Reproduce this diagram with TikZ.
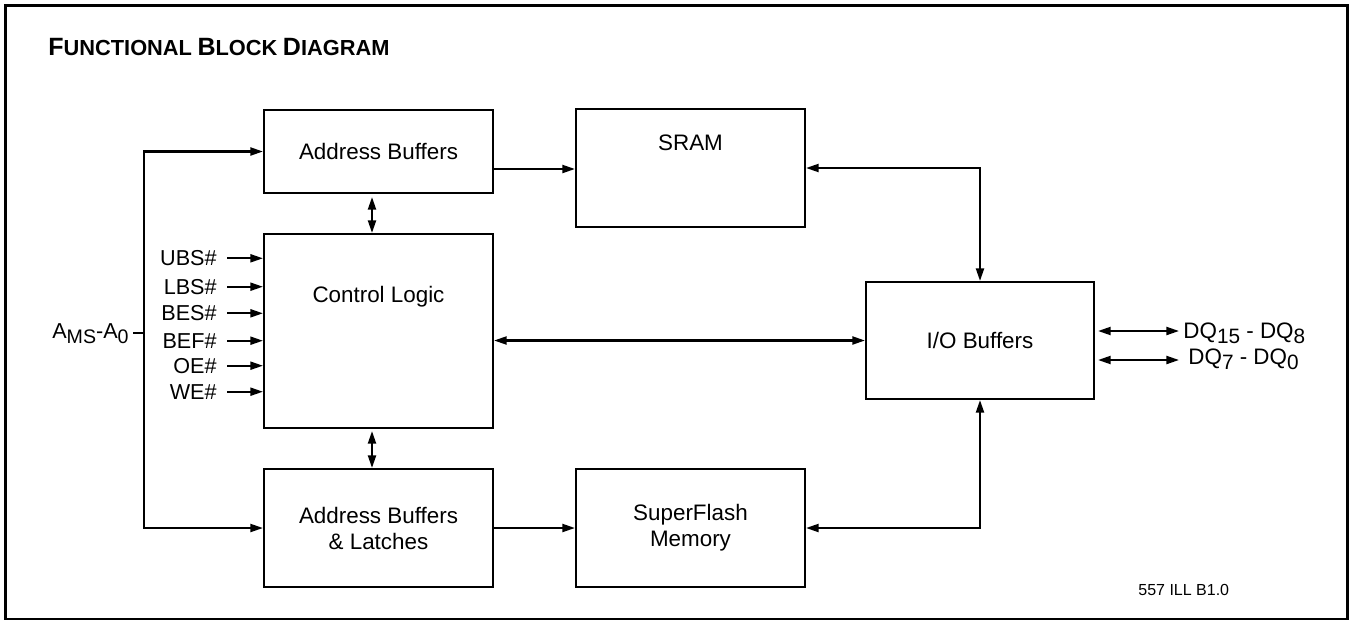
\documentclass[tikz,border=0pt]{standalone}
\usepackage{fontspec}
\setmainfont{Liberation Sans}
\usetikzlibrary{arrows.meta}
\newcommand\ttlbig[1]{{\fontsize{12.5}{14}\selectfont #1}}
\newcommand\ttlsml[1]{{\fontsize{10.9}{13}\selectfont #1}}
\newcommand\lowsub[2]{\raisebox{-2.5pt}{\fontsize{#1}{12}\selectfont #2}}
\begin{document}
\begin{tikzpicture}[x=0.5pt,y=-0.5pt,
  >={Triangle[length=6.3pt,width=4pt]},
  box/.style={draw, line width=1.05pt, minimum width=114.5pt, inner sep=0pt,
    font=\fontsize{11.2}{13}\selectfont, align=center},
  boxlabel/.style={font=\fontsize{11.2}{13}\selectfont},
  sig/.style={font=\fontsize{10.8}{13}\selectfont, inner sep=0pt},
  dqlabel/.style={font=\fontsize{11.2}{13}\selectfont, inner sep=0pt},
  conn/.style={line width=1.05pt}]
\useasboundingbox (0,0) rectangle (1350,622);
\draw[line width=1.3pt] (5.3,5.2) rectangle (1347.5,619);

\node[anchor=base west, inner sep=0pt, font=\bfseries] (title) at (48,55)
  {\ttlbig{F}\ttlsml{UNCTIONAL} \ttlbig{B}\ttlsml{LOCK} \ttlbig{D}\ttlsml{IAGRAM}};

% blocks
\node[box, minimum height=41.5pt] (ab) at (378.5,151.5) {Address Buffers};
\node[box, minimum height=59pt,
  label={[boxlabel, yshift=12.5pt]center:SRAM}] (sram) at (690.5,168) {};
\node[box, minimum height=97pt,
  label={[boxlabel, yshift=17pt]center:Control Logic}] (ctl) at (378.5,331) {};
\node[box, minimum width=114pt, minimum height=58.5pt] (io) at (980,340.5) {I/O Buffers};
\node[box, minimum height=59pt] (abl) at (378.5,528) {Address Buffers\\\& Latches};
\node[box, minimum height=59pt] (sf) at (690.5,528) {SuperFlash\\Memory};

% address bus
\coordinate (bus) at (144,333);
\coordinate (stub) at (133,333);
\node[sig, anchor=base east] (ams) at (129,338)
  {A\lowsub{9.8}{MS}-A\lowsub{9.8}{0}};
\draw[conn] (stub) -- (bus);
\draw[conn,<->] (ab.west) -| (bus) |- (abl.west);

% control signals
\node[sig, anchor=east] (ubs) at (217,258.3) {UBS\#};
\node[sig, anchor=east] (lbs) at (217,286.7) {LBS\#};
\node[sig, anchor=east] (bes) at (217,313.3) {BES\#};
\node[sig, anchor=east] (bef) at (217,340.7) {BEF\#};
\node[sig, anchor=east] (oe)  at (217,365.7) {OE\#};
\node[sig, anchor=east] (we)  at (217,391.7) {WE\#};
\foreach \s in {ubs,lbs,bes,bef,oe,we}
  \draw[conn,->,shorten <=5pt] (\s.east) -- (\s.east -| ctl.west);

% internal connections
\coordinate (p1) at ([yshift=-8.75pt]ab.east);
\draw[conn,->] (p1) -- (p1 -| sram.west);
\coordinate (v1) at (372,0);
\draw[conn,<->,shorten <=1.5pt] (v1 |- ab.south) -- (v1 |- ctl.north);
\draw[conn,<->,shorten <=1pt] (v1 |- ctl.south) -- (v1 |- abl.north);
\draw[conn,<->] (ctl.east |- io.west) -- (io.west);
\draw[conn,<->] (sram.east) -| (io.north);
\draw[conn,<->] (sf.east) -| (io.south);
\draw[conn,->] (abl.east) -- (sf.west);

% data bus
\coordinate (dqa) at (1179,331);
\coordinate (dqb) at (1179,360);
\draw[conn,<->,shorten <=1.5pt] (io.east |- dqa) -- (dqa);
\draw[conn,<->,shorten <=1.5pt] (io.east |- dqb) -- (dqb);
\node[dqlabel, anchor=base west] (dq1) at (1183,338)
  {DQ\lowsub{10.4}{15} - DQ\lowsub{10.4}{8}};
\node[dqlabel, anchor=base west] (dq2) at (1188,364)
  {DQ\lowsub{10.4}{7} - DQ\lowsub{10.4}{0}};

\node[anchor=base west, inner sep=0pt, font=\fontsize{8}{10}\selectfont] (ill) at (1138,595) {557 ILL B1.0};
\end{tikzpicture}
\end{document}
